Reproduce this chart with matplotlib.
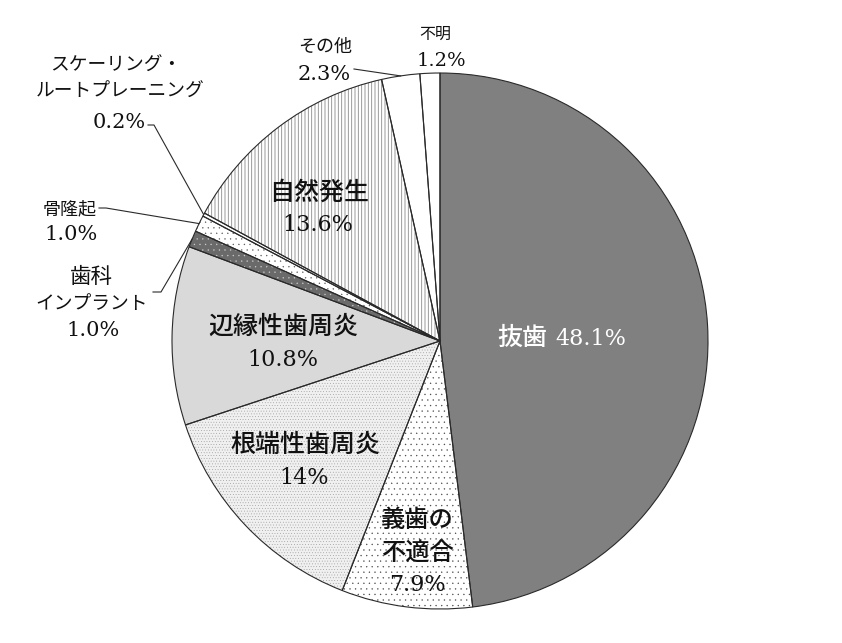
import numpy as np
import matplotlib
matplotlib.use("Agg")
import matplotlib.pyplot as plt

# ---- data ----
categories = ['抜歯', '義歯の\n不適合', '根端性歯周炎', '辺縁性歯周炎', '歯科\nインプラント',
              '骨隆起', 'スケーリング・\nルートプレーニング', '自然発生', 'その他', '不明']
values = [48.1, 7.9, 14.0, 10.8, 1.0, 1.0, 0.2, 13.6, 2.3, 1.2]
pct_labels = ['48.1%', '7.9%', '14%', '10.8%', '1.0%', '1.0%', '0.2%', '13.6%', '2.3%', '1.2%']

# ---- styles ----
face_colors = ['#808080', '#ffffff', '#f0f0f0', '#d9d9d9', '#6a6a6a',
               '#ffffff', '#ffffff', '#ffffff', '#ffffff', '#ffffff']
hatches = [None, '...', '......', None, '...', '...', None, '|||||', None, None]
hatch_colors = ['#808080', '#444444', '#8a8a8a', '#d9d9d9', '#d0d0d0',
                '#555555', '#ffffff', '#8a8a8a', '#ffffff', '#ffffff']
hatch_lws = [0.3, 0.2, 0.2, 0.3, 0.2, 0.2, 0.3, 0.6, 0.3, 0.3]

plt.rcParams['hatch.linewidth'] = 0.3
CJK = ['Noto Sans CJK JP']
SER = ['DejaVu Serif']

W, H = 842, 643
CX, CY, R = 440, 341, 268

fig = plt.figure(figsize=(W / 100, H / 100), dpi=100)
ax = fig.add_axes([0, 0, 1, 1])


def P(x, y):
    """pixel position -> data coords"""
    return (x - CX) / R, (CY - y) / R


wedges, _ = ax.pie(values, startangle=90, counterclock=False, colors=face_colors,
                   wedgeprops=dict(linewidth=0))
for w, h, hc, hl in zip(wedges, hatches, hatch_colors, hatch_lws):
    w.set_edgecolor(hc)
    w.set_linewidth(0)
    if h:
        w.set_hatch(h)
        try:
            w.set_hatch_linewidth(hl)
        except AttributeError:
            pass

outline, _ = ax.pie(values, startangle=90, counterclock=False,
                    wedgeprops=dict(fill=False, edgecolor='#2a2a2a', linewidth=0.8))

# ---- labels (layout in pixels) ----
# per category: (px, py, fontsize) for each line (name lines then pct)
layout = {
    0: [(522, 338, 18), (591, 339, 16)],
    1: [(417, 520, 17.5), (417, 554, 17.5), (417, 585, 16)],
    2: [(305, 445, 18), (304, 478, 16)],
    3: [(283, 327, 18), (283, 360, 16)],
    4: [(91, 277, 15.5), (92, 304, 13.5), (93, 331, 15)],
    5: [(70, 209, 13), (71, 235, 15)],
    6: [(116, 65, 13.5), (120, 91, 13.5), (119, 122, 15)],
    7: [(319, 193, 18), (318, 225, 16)],
    8: [(325, 47, 13), (324, 74, 15)],
    9: [(435, 34, 11.5), (441, 61, 14)],
}
inner = {0, 1, 2, 3, 7}
for i, (name, pct) in enumerate(zip(categories, pct_labels)):
    lines = name.split('\n') + [pct]
    col = 'white' if i == 0 else '#111111'
    n = len(lines)
    for k, (txt, (px, py, fs)) in enumerate(zip(lines, layout[i])):
        x, y = P(px, py)
        is_pct = (k == n - 1)
        ax.text(x, y, txt, ha='center', va='center', fontsize=fs,
                family=SER if is_pct else CJK,
                weight=('medium' if (i in inner and not is_pct) else 'normal'),
                color=col)

# ---- leader lines ----
leaders = {
    4: [(153, 292), (161, 292)],
    5: [(99, 208), (106, 208)],
    6: [(148, 125), (154, 125)],
    8: [(354, 69)],
}
for i, pts in leaders.items():
    w = outline[i]
    mid = np.deg2rad((w.theta1 + w.theta2) / 2)
    xs = [P(*p)[0] for p in pts] + [np.cos(mid)]
    ys = [P(*p)[1] for p in pts] + [np.sin(mid)]
    ax.plot(xs, ys, color='#2a2a2a', linewidth=0.8)

ax.set_xlim(-CX / R, (W - CX) / R)
ax.set_ylim((CY - H) / R, CY / R)
ax.set_aspect('auto')
ax.axis('off')

fig.savefig('out.png', dpi=100, facecolor='white')
